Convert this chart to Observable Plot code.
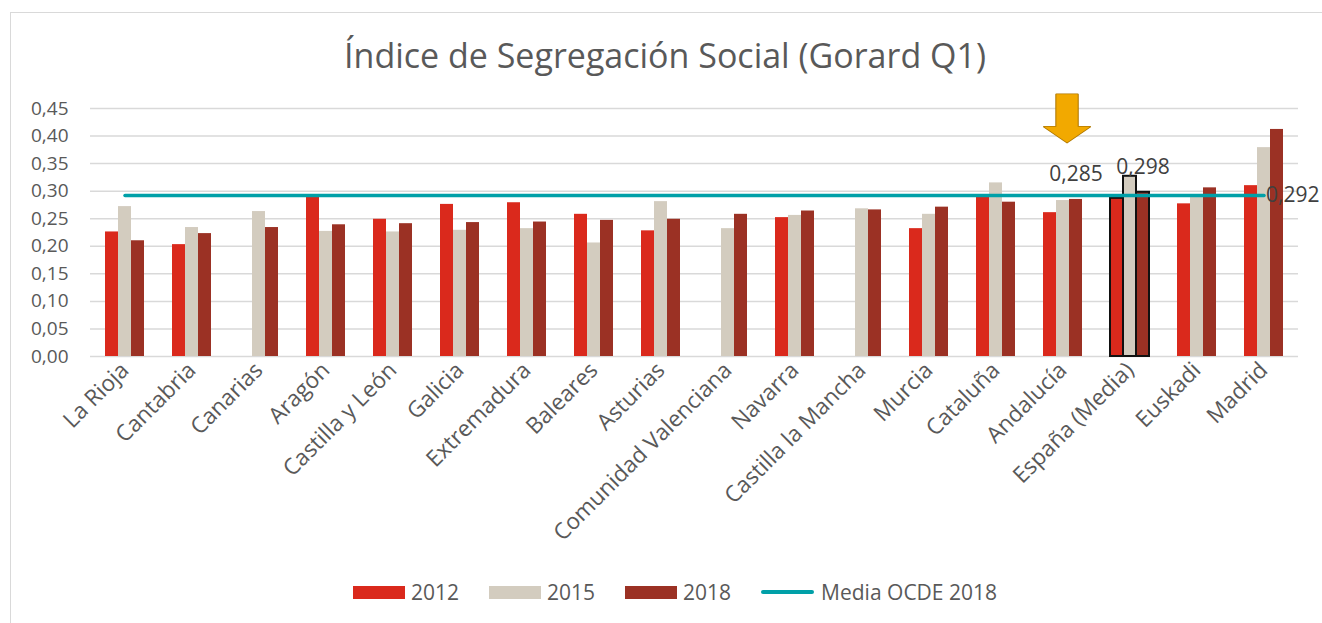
<!DOCTYPE html>
<html><head><meta charset="utf-8">
<script src="https://cdn.jsdelivr.net/npm/d3@7"></script>
<script src="https://cdn.jsdelivr.net/npm/@observablehq/plot@0.6"></script>
<style>
body{margin:0;background:#fff;font-family:"Open Sans",sans-serif;color:#595959;}
#wrap{position:relative;width:1322px;height:623px;overflow:hidden;}
#frame{position:absolute;left:10px;top:12px;width:1400px;height:700px;border-left:1.5px solid #d9d9d9;border-top:1.5px solid #d9d9d9;}
#title{position:absolute;left:0;width:1330px;top:35px;text-align:center;font-size:34px;line-height:40px;color:#595959;}
#chart{position:absolute;left:0;top:0;}
#legend{position:absolute;top:576px;left:0;width:1350px;height:32px;display:flex;justify-content:center;align-items:center;font-size:21px;color:#595959;}
.item{display:flex;align-items:center;margin:0 15px;}
.sw{width:52px;height:13px;margin-right:6px;}
.ln{width:53px;height:4px;border-radius:2px;margin-right:7px;}
</style></head>
<body>
<div id="wrap">
  <div id="frame"></div>
  <div id="chart"></div>
  <div id="title">Índice de Segregación Social (Gorard Q1)</div>
  <div id="legend"></div>
</div>
<script>
const regions = ["La Rioja","Cantabria","Canarias","Aragón","Castilla y León","Galicia","Extremadura","Baleares","Asturias","Comunidad Valenciana","Navarra","Castilla la Mancha","Murcia","Cataluña","Andalucía","España (Media)","Euskadi","Madrid"];
const v2012 = [0.226,0.203,null,0.289,0.249,0.276,0.279,0.258,0.228,null,0.252,null,0.232,0.289,0.261,0.287,0.277,0.310];
const v2015 = [0.272,0.234,0.263,0.227,0.226,0.229,0.232,0.206,0.281,0.232,0.256,0.268,0.258,0.315,0.283,0.327,0.290,0.379];
const v2018 = [0.210,0.223,0.234,0.239,0.241,0.243,0.244,0.247,0.249,0.258,0.264,0.266,0.271,0.280,0.285,0.298,0.306,0.412];
const years = ["2012","2015","2018"];
const ocdeLabel = "Media OCDE 2018";
const ocde2018 = 0.292;
const yTicks = [0,0.05,0.10,0.15,0.20,0.25,0.30,0.35,0.40,0.45];
const highlighted = "España (Media)";
const labeled = ["Andalucía","España (Media)"];
const arrowRegion = "Andalucía";

const colors = {"2012":"#DA291C","2015":"#D3CCBF","2018":"#9B3124"};
const tealColor = "#00A0A8";
const fmt = (d, n) => d.toFixed(n).replace(".", ",");

const rows = regions.map((r, i) => ({region: r, "2012": v2012[i], "2015": v2015[i], "2018": v2018[i]}));
const offsets = {"2012": -13, "2015": 0, "2018": 13};

const marks = [
  Plot.ruleY(yTicks, {stroke: "#d9d9d9", strokeWidth: 1.5}),
  Plot.axisY({ticks: yTicks, tickFormat: d => fmt(d, 2), tickSize: 0, tickPadding: 22, fontSize: 19, label: null}),
  Plot.axisX({tickRotate: -45, tickSize: 0, tickPadding: 10, fontSize: 22.5, label: null}),
];
for (const yr of years) {
  marks.push(Plot.barY(rows.filter(d => d[yr] != null), {x: "region", y: yr, fill: colors[yr], dx: offsets[yr]}));
}
for (const yr of years) {
  marks.push(Plot.barY(rows.filter(d => d.region === highlighted), {x: "region", y: yr, fill: "none", stroke: "#111", strokeWidth: 2, dx: offsets[yr]}));
}
marks.push(Plot.line(regions, {x: d => d, y: () => ocde2018, stroke: tealColor, strokeWidth: 3.5}));
marks.push(Plot.text(rows.filter(d => labeled.includes(d.region)), {x: "region", y: "2018", text: d => fmt(d["2018"], 3), dx: 13, dy: -25, fontSize: 21, fill: "#404040"}));
marks.push(Plot.text([ocde2018], {x: () => regions[regions.length - 1], y: d => d, text: d => fmt(d, 3), textAnchor: "start", dx: 2, fontSize: 21, fill: "#404040"}));
marks.push(Plot.text([arrowRegion], {x: d => d, frameAnchor: "top", text: () => "⬇", dx: 4, dy: -13, fontSize: 64, fontFamily: "DejaVu Sans", fill: "#F2A900", stroke: "#B07800", strokeWidth: 1.5}));

const chart = Plot.plot({
  width: 1322,
  height: 560,
  marginTop: 108,
  marginBottom: 204,
  marginLeft: 90,
  marginRight: 24,
  style: {fontFamily: "Open Sans", color: "#595959", fontSize: "19px", background: "transparent"},
  x: {domain: regions, paddingInner: 0.806, paddingOuter: 0.41},
  y: {domain: [0, 0.45]},
  marks
});
// widen the arrow glyph horizontally to match the reference's block arrow
for (const t of chart.querySelectorAll("text")) {
  if (t.textContent === "⬇") {
    const tr = t.getAttribute("transform") || "";
    t.setAttribute("transform", tr + " scale(1.45,1)");
    t.setAttribute("stroke-width", "1.5");
  }
}
document.getElementById("chart").appendChild(chart);

const legend = document.getElementById("legend");
for (const yr of years) {
  const it = document.createElement("div"); it.className = "item";
  it.innerHTML = `<div class="sw" style="background:${colors[yr]}"></div><span>${yr}</span>`;
  legend.appendChild(it);
}
const it = document.createElement("div"); it.className = "item";
it.innerHTML = `<div class="ln" style="background:${tealColor}"></div><span>${ocdeLabel}</span>`;
legend.appendChild(it);
</script>
</body></html>
